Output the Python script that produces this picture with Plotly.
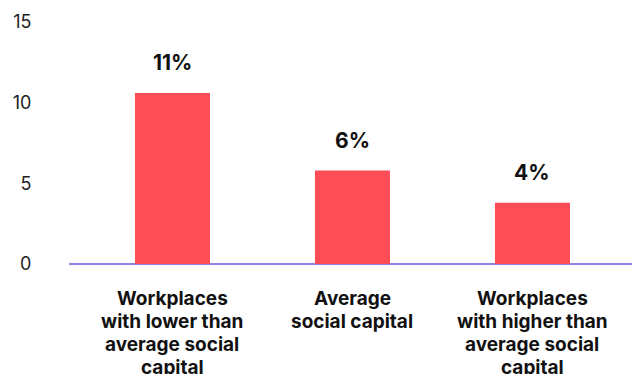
import plotly.graph_objects as go

categories = [
    "Workplaces<br>with lower than<br>average social<br>capital",
    "Average<br>social capital",
    "Workplaces<br>with higher than<br>average social<br>capital",
]
values = [10.6, 5.8, 3.8]
y_ticks = [0, 5, 10, 15]

labels = [f"{round(v)}%" for v in values]

fig = go.Figure(
    go.Bar(
        x=list(range(len(categories))),
        y=values,
        marker=dict(color="#FF4D57", line=dict(width=0)),
        hoverinfo="skip",
    )
)

# value labels above each bar
for i, (v, t) in enumerate(zip(values, labels)):
    fig.add_annotation(
        x=i, y=v, text=f"<b>{t}</b>", showarrow=False,
        yanchor="middle", yshift=30,
        font=dict(family="Inter", size=21, color="#111111"),
    )

# category labels, one annotation per line for tight line spacing
for i, cat in enumerate(categories):
    for k, line in enumerate(cat.split("<br>")):
        fig.add_annotation(
            x=i, y=0, text=f"<b>{line}</b>", showarrow=False,
            yanchor="middle", yshift=-(34 + 23 * k),
            font=dict(family="Inter", size=19, color="#111111"),
        )

fig.update_layout(
    width=636, height=374,
    margin=dict(l=69, r=4, t=22, b=110),
    paper_bgcolor="white", plot_bgcolor="white",
    bargap=0.583,
    showlegend=False,
    font=dict(family="Inter", color="#222222"),
)
fig.update_xaxes(
    range=[-0.575, 2.553],
    showticklabels=False, automargin=False,
    showgrid=False, zeroline=False, showline=False,
)
fig.update_yaxes(
    range=[0, 15],
    tickvals=y_ticks,
    tickfont=dict(family="Inter", size=18, color="#222222"),
    showgrid=False, automargin=False,
    zeroline=True, zerolinecolor="#8A86E6", zerolinewidth=2,
    showline=False,
    ticks="outside", ticklen=33, tickcolor="rgba(0,0,0,0)",
)

fig.write_html("out.html")
